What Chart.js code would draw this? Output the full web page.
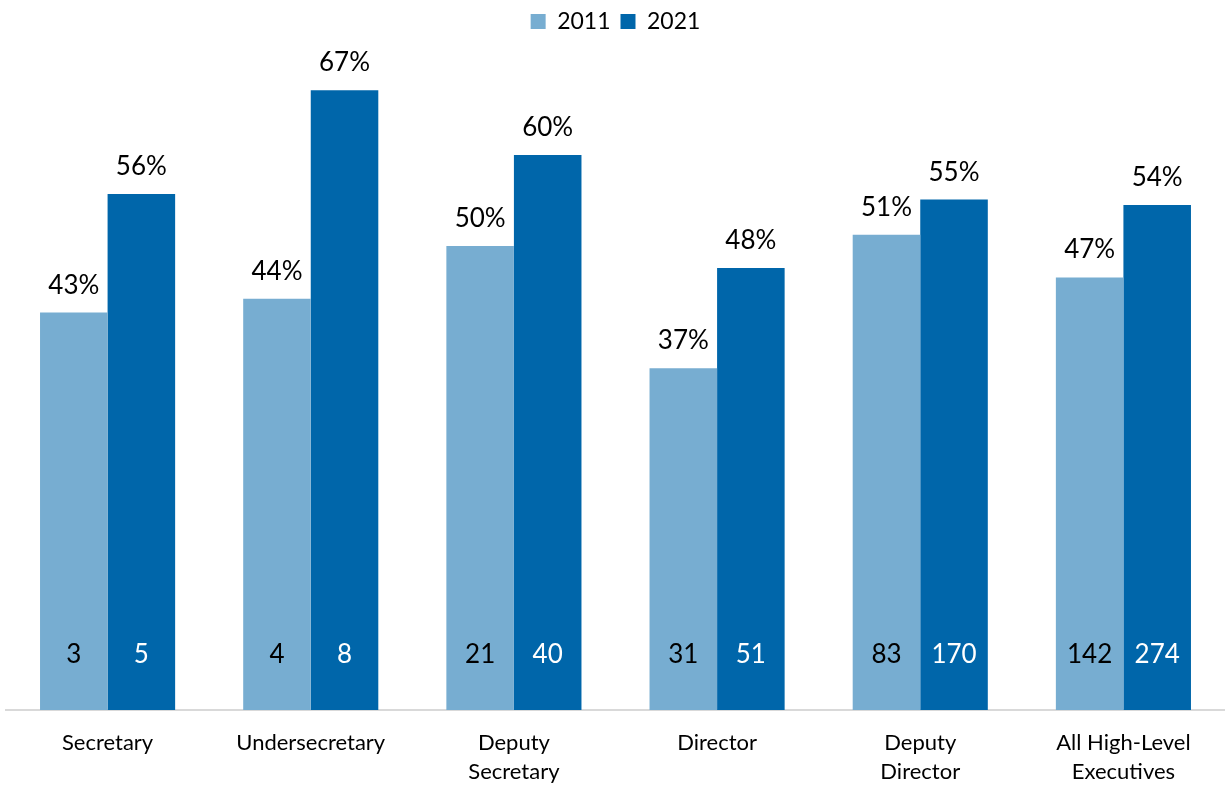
<!DOCTYPE html>
<html>
<head>
<meta charset="utf-8">
<script src="https://cdn.jsdelivr.net/npm/chart.js@4/dist/chart.umd.min.js"></script>
<style>
  html, body { margin: 0; padding: 0; background: #fff; }
  #wrap { width: 1225px; height: 786px; position: relative; }
</style>
</head>
<body>
<div id="wrap"><canvas id="c"></canvas></div>
<script>
const categories = ['Secretary', 'Undersecretary', ['Deputy', 'Secretary'], 'Director', ['Deputy', 'Director'], ['All High-Level', 'Executives']];
const seriesNames = ['2011', '2021'];
const share2011 = [42.9, 44.4, 50.1, 36.9, 51.3, 46.7];
const share2021 = [55.7, 66.9, 59.9, 47.7, 55.1, 54.5];
const pctLabels2011 = ['43%', '44%', '50%', '37%', '51%', '47%'];
const pctLabels2021 = ['56%', '67%', '60%', '48%', '55%', '54%'];
const counts2011 = [3, 4, 21, 31, 83, 142];
const counts2021 = [5, 8, 40, 51, 170, 274];

const FONT = 'Lato, "Open Sans", sans-serif';

const labelPlugin = {
  id: 'barLabels',
  afterDatasetsDraw(chart) {
    const ctx = chart.ctx;
    const pct = [pctLabels2011, pctLabels2021];
    const cnt = [counts2011, counts2021];
    const cntColor = ['#000000', '#ffffff'];
    ctx.save();
    ctx.textAlign = 'center';
    chart.data.datasets.forEach((ds, di) => {
      const meta = chart.getDatasetMeta(di);
      meta.data.forEach((bar, i) => {
        ctx.font = '26px ' + FONT;
        ctx.fillStyle = '#000000';
        ctx.textBaseline = 'alphabetic';
        ctx.fillText(pct[di][i], bar.x, bar.y - 19);
        ctx.fillStyle = cntColor[di];
        ctx.textBaseline = 'middle';
        ctx.fillText(String(cnt[di][i]), bar.x, bar.base - 55);
      });
    });
    ctx.restore();
  }
};

new Chart(document.getElementById('c'), {
  type: 'bar',
  data: {
    labels: categories,
    datasets: [
      { label: seriesNames[0], data: share2011, backgroundColor: '#77ADD1', borderWidth: 0 },
      { label: seriesNames[1], data: share2021, backgroundColor: '#0066AA', borderWidth: 0 }
    ]
  },
  options: {
    responsive: true,
    maintainAspectRatio: false,
    animation: false,
    layout: { padding: { left: 6, right: 0, top: 0, bottom: 0 } },
    datasets: { bar: { categoryPercentage: 0.665, barPercentage: 1.0 } },
    plugins: {
      legend: {
        position: 'top',
        labels: {
          font: { family: FONT, size: 23 },
          color: '#000000',
          boxWidth: 15,
          boxHeight: 15,
          padding: 10
        }
      },
      tooltip: { enabled: false }
    },
    scales: {
      x: {
        grid: { display: false, drawTicks: false },
        border: { display: true, color: '#D9D9D9', width: 2 },
        ticks: {
          font: { family: FONT, size: 22, lineHeight: 1.32 },
          color: '#000000',
          padding: 18,
          maxRotation: 0,
          autoSkip: false
        },
        afterFit(scale) { scale.height = 76; }
      },
      y: {
        display: false,
        min: 0,
        max: 72.0
      }
    }
  },
  plugins: [labelPlugin]
});
</script>
</body>
</html>
